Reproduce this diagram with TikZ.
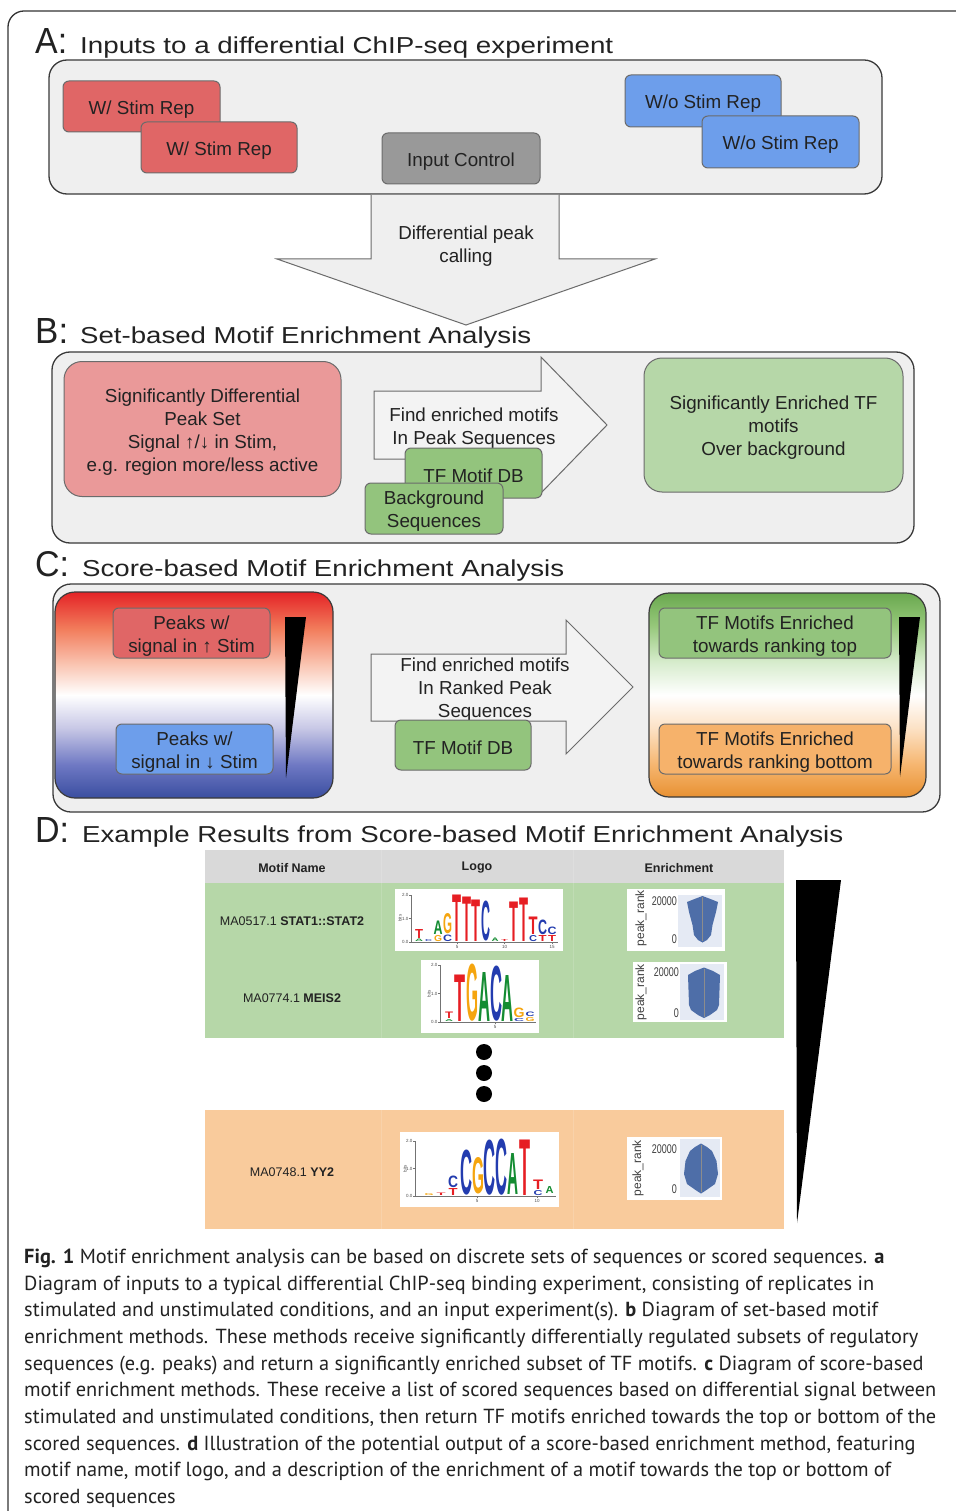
\documentclass[tikz,border=0pt]{standalone}
\usepackage{fontspec}
\setmainfont{Liberation Sans}
\newfontfamily\capfont{PT Sans}
\definecolor{pfill}{HTML}{EFEFEF}
\definecolor{pfilltwo}{HTML}{F3F3F3}
\definecolor{pdraw}{HTML}{3A3A3A}
\definecolor{bdraw}{HTML}{6B6B6B}
\definecolor{cred}{HTML}{E06666}
\definecolor{cblue}{HTML}{6D9EEB}
\definecolor{cgray}{HTML}{999999}
\definecolor{lred}{HTML}{EA9999}
\definecolor{lgreen}{HTML}{B6D7A8}
\definecolor{cgreen}{HTML}{93C47D}
\definecolor{corange}{HTML}{F6B26B}
\definecolor{lorange}{HTML}{F9CB9C}
\definecolor{thead}{HTML}{D9D9D9}
\definecolor{txt}{HTML}{222222}
\definecolor{lA}{RGB}{20,140,50}
\definecolor{lC}{RGB}{35,60,175}
\definecolor{lG}{RGB}{245,165,15}
\definecolor{lT}{RGB}{230,30,35}
\definecolor{vfill}{RGB}{78,110,168}
\definecolor{vbg}{RGB}{229,234,244}
% red-blue gradient
\definecolor{rb0}{RGB}{58,78,160}
\definecolor{rb1}{RGB}{110,120,195}
\definecolor{rb2}{RGB}{200,200,230}
\definecolor{rb4}{RGB}{250,200,182}
\definecolor{rb5}{RGB}{242,125,92}
\definecolor{rb6}{RGB}{228,35,38}
\pgfdeclareverticalshading{redblue}{100bp}{color(0bp)=(rb0); color(25bp)=(rb0); color(33bp)=(rb1); color(42bp)=(rb2); color(50bp)=(white); color(57bp)=(rb4); color(66bp)=(rb5); color(75bp)=(rb6); color(100bp)=(rb6)}
% green-orange gradient
\definecolor{go0}{RGB}{232,145,50}
\definecolor{go1}{RGB}{246,182,112}
\definecolor{go2}{RGB}{252,226,198}
\definecolor{go4}{RGB}{215,236,205}
\definecolor{go5}{RGB}{150,200,122}
\definecolor{go6}{RGB}{106,168,79}
\pgfdeclareverticalshading{greenorange}{100bp}{color(0bp)=(go0); color(25bp)=(go0); color(33bp)=(go1); color(42bp)=(go2); color(50bp)=(white); color(58bp)=(go4); color(67bp)=(go5); color(75bp)=(go6); color(100bp)=(go6)}
\newcommand\bxf{\fontsize{18.8}{23}\selectfont}
\newcommand\capf{\capfont\fontsize{20.35}{24}\selectfont}
\newcommand\rowf{\fontsize{12.5}{14}\selectfont}
\newcommand\tinyf{\fontsize{4.5}{5}\selectfont}
\newcommand\vf{\fontsize{12}{13}\selectfont}
% logo letter: name, x, top, bottom, colour, letter, width
\newcommand\LL[7]{\node[inner sep=0pt, outer sep=0pt, anchor=south, text=#5] (#1) at (#2,#4) {\resizebox{#7pt}{\dimexpr #4pt-#3pt\relax}{\bfseries #6}};}
% box with text: name, options, x, y, text
\newcommand\BX[5]{\node[box,#2] (#1) at (#3,#4) {}; \node[lbl] (#1t) at ([yshift=-3pt]#1.center) {#5};}
\begin{document}
\begin{tikzpicture}[x=1pt,y=-1pt,
  every node/.style={text=txt},
  panel/.style={draw=pdraw, line width=1.3pt, fill=pfill, rounded corners=18pt, inner sep=0pt},
  box/.style={draw=bdraw, line width=1pt, rounded corners=6pt, inner sep=0pt},
  big/.style={rounded corners=18pt},
  lbl/.style={inner sep=0pt, align=center, font=\bxf},
  ttl/.style={anchor=base west, inner sep=0pt},
  bigarrow/.style={draw=bdraw, line width=1pt, fill=pfill},
  captext/.style={anchor=base west, inner sep=0pt, font=\capf},
  row/.style={inner sep=0pt, font=\rowf},
  hd/.style={inner sep=0pt, font=\rowf\bfseries},
  wedge/.style={fill=black},
  ax/.style={draw=black!55, line width=0.4pt},
  tk/.style={inner sep=0pt, font=\tinyf, text=black!70},
  vl/.style={inner sep=0pt, font=\vf, text=black!75},
]
\useasboundingbox (0,0) rectangle (955,1511);
\fill[white] (0,0) rectangle (955,1511);
% frame
\draw[line width=1.3pt, black!80, rounded corners=16pt] (8,1520) -- (8,11) -- (965,11);

% ---------- A ----------
\node[ttl] (tA) at (35,54) {\resizebox{32pt}{25pt}{A:}};
\node[ttl] (tAt) at (80,54) {\resizebox{533pt}{16.7pt}{Inputs to a differential ChIP-seq experiment}};
\node[panel, minimum width=833pt, minimum height=134pt] (pA) at (465.5,127) {};
\BX{ws1}{fill=cred, minimum width=157pt, minimum height=51pt}{141.5}{106.5}{W/ Stim Rep}
\BX{ws2}{fill=cred, minimum width=156pt, minimum height=51pt}{219}{147.5}{W/ Stim Rep}
\BX{ic}{fill=cgray, minimum width=158pt, minimum height=51pt}{461}{158.5}{Input Control}
\BX{wo1}{fill=cblue, minimum width=156pt, minimum height=52pt}{703}{101}{W/o Stim Rep}
\BX{wo2}{fill=cblue, minimum width=157pt, minimum height=52pt}{780.5}{142}{W/o Stim Rep}
\draw[bigarrow] (371,195) -- (371,259) -- (277,259) -- (466,325) -- (655,259) -- (559,259) -- (559,195);
\node[lbl] (dpc) at (466,246.5) {Differential peak\\calling};

% ---------- B ----------
\node[ttl] (tB) at (35,343) {\resizebox{33pt}{25pt}{B:}};
\node[ttl] (tBt) at (80,343) {\resizebox{451pt}{16.7pt}{Set-based Motif Enrichment Analysis}};
\node[panel, minimum width=862pt, minimum height=191pt] (pB) at (483,447.5) {};
\BX{sd}{big, fill=lred, minimum width=277pt, minimum height=135pt}{202.5}{429}{Significantly Differential\\Peak Set\\Signal ↑/↓ in Stim,\\e.g. region more/less active}
\draw[bigarrow, fill=pfilltwo] (541,459) -- (374,459) -- (374,391) -- (541,391) -- (541,357) -- (607,425) -- (541,493) -- cycle;
\node[lbl] (fe) at (474,428.5) {Find enriched motifs\\In Peak Sequences};
\BX{db1}{fill=cgreen, minimum width=137pt, minimum height=50pt}{473.5}{473}{TF Motif DB}
\BX{bg}{fill=cgreen, minimum width=138pt, minimum height=51pt}{434}{508.5}{Background\\Sequences}
\BX{se}{big, fill=lgreen, minimum width=259pt, minimum height=134pt}{773.5}{425}{Significantly Enriched TF\\motifs\\Over background}

% ---------- C ----------
\node[ttl] (tC) at (35,576) {\resizebox{34pt}{25pt}{C:}};
\node[ttl] (tCt) at (82,576) {\resizebox{482pt}{16.7pt}{Score-based Motif Enrichment Analysis}};
\node[panel, minimum width=887pt, minimum height=228pt] (pC) at (496.5,698) {};
\node[draw=pdraw, line width=1.2pt, rounded corners=20pt, shade, shading=redblue, minimum width=278pt, minimum height=206pt, inner sep=0pt] (gl) at (194,695) {};
\BX{pu}{fill=cred, minimum width=157pt, minimum height=50pt}{191.5}{633}{Peaks w/\\signal in ↑ Stim}
\BX{pd}{fill=cblue, minimum width=157pt, minimum height=50pt}{194.5}{749}{Peaks w/\\signal in ↓ Stim}
\fill[wedge] (285,617) -- (306,617) -- (286,778) -- cycle;
\draw[bigarrow, fill=pfilltwo] (566,721) -- (371,721) -- (371,654) -- (566,654) -- (566,620) -- (633,687) -- (566,754) -- cycle;
\node[lbl] (fr) at (485,690) {Find enriched motifs\\In Ranked Peak\\Sequences};
\BX{db2}{fill=cgreen, minimum width=136pt, minimum height=50pt}{463}{745}{TF Motif DB}
\node[draw=pdraw, line width=1.2pt, rounded corners=20pt, shade, shading=greenorange, minimum width=277pt, minimum height=204pt, inner sep=0pt] (gr) at (787.5,695) {};
\BX{tt}{fill=cgreen, minimum width=232pt, minimum height=50pt}{775}{633}{TF Motifs Enriched\\towards ranking top}
\BX{tb}{fill=corange, minimum width=232pt, minimum height=50pt}{775}{749}{TF Motifs Enriched\\towards ranking bottom}
\fill[wedge] (899,617) -- (920,617) -- (900,777) -- cycle;

% ---------- D ----------
\node[ttl] (tD) at (35,842) {\resizebox{34pt}{25pt}{D:}};
\node[ttl] (tDt) at (82,842) {\resizebox{761pt}{16.7pt}{Example Results from Score-based Motif Enrichment Analysis}};
\fill[thead] (205,850) rectangle (784,883);
\fill[lgreen] (205,883) rectangle (784,1038);
\fill[lorange] (205,1110) rectangle (784,1229);
\draw[white, opacity=0.15, line width=0.8pt] (381,850) -- (381,1038) (573,850) -- (573,1038) (381,1110) -- (381,1229) (573,1110) -- (573,1229);
\node[hd] (hmn) at (292,868) {Motif Name};
\node[hd] (hlg) at (477,868) {Logo};
\node[hd] (hen) at (679,868) {Enrichment};
\node[row] (r1) at (292,921) {MA0517.1 \textbf{STAT1::STAT2}};
\node[row] (r2) at (292,998) {MA0774.1 \textbf{MEIS2}};
\node[row] (r3) at (292,1172) {MA0748.1 \textbf{YY2}};
\fill[black] (484,1052) circle (8pt) (484,1073) circle (8pt) (484,1094) circle (8pt);
\fill[wedge] (796,880) -- (841,880) -- (797,1223) -- cycle;

% logo 1
\fill[white] (395,889) rectangle (563,951);
\draw[ax] (411,895) -- (411,942) -- (558,942);
\draw[ax] (409,895) -- (411,895) (409,918.5) -- (411,918.5) (409,942) -- (411,942) (457,942) -- (457,944) (504.5,942) -- (504.5,944) (552,942) -- (552,944);
\node[tk, anchor=east] (l1y2) at (408.5,895) {2.0};
\node[tk, anchor=east] (l1y1) at (408.5,918.5) {1.0};
\node[tk, anchor=east] (l1y0) at (408.5,942) {0.0};
\node[tk, rotate=90] (l1b) at (400,918) {bits};
\node[tk, anchor=north] (l1x5) at (457,945) {5};
\node[tk, anchor=north] (l1x10) at (504.5,945) {10};
\node[tk, anchor=north] (l1x15) at (552,945) {15};
\LL{a1}{419}{929}{938}{lT}{T}{8}
\LL{a1b}{419}{939}{941.5}{lA}{A}{8}
\LL{a2}{428.5}{939.5}{941.5}{lC}{C}{7}
\LL{a3}{438}{921}{934.5}{lA}{A}{9}
\LL{a3b}{438}{935.5}{941.5}{lG}{G}{8}
\LL{a4}{447.5}{914}{934}{lG}{G}{9}
\LL{a4b}{447.5}{935}{941.5}{lC}{C}{9}
\LL{a5}{457}{895}{941.5}{lT}{T}{9}
\LL{a6}{466.5}{897}{941.5}{lT}{T}{9}
\LL{a7}{476}{900}{941.5}{lT}{T}{9}
\LL{a8}{485.5}{902}{941.5}{lC}{C}{9}
\LL{a9}{495}{938}{941.5}{lA}{A}{7}
\LL{a10}{504.5}{939.5}{941.5}{lT}{T}{7}
\LL{a11}{514}{902}{941.5}{lT}{T}{9}
\LL{a12}{523.5}{898}{941.5}{lT}{T}{9}
\LL{a13}{533}{917}{934.5}{lT}{T}{9}
\LL{a13b}{533}{935.5}{941.5}{lC}{C}{8}
\LL{a14}{542.5}{920}{934.5}{lC}{C}{9}
\LL{a14b}{542.5}{935.5}{941.5}{lT}{T}{8}
\LL{a15}{552}{927}{934.5}{lC}{C}{9}
\LL{a15b}{552}{935.5}{941.5}{lT}{T}{8}

% logo 2
\fill[white] (421,960) rectangle (539,1033);
\draw[ax] (440,965) -- (440,1022) -- (536,1022);
\draw[ax] (438,965) -- (440,965) (438,993.5) -- (440,993.5) (438,1022) -- (440,1022) (495,1022) -- (495,1024);
\node[tk, anchor=east] (l2y2) at (437.5,965) {2.0};
\node[tk, anchor=east] (l2y1) at (437.5,993.5) {1.0};
\node[tk, anchor=east] (l2y0) at (437.5,1022) {0.0};
\node[tk, rotate=90] (l2b) at (429,993.5) {bits};
\node[tk, anchor=north] (l2x5) at (495,1025) {5};
\LL{b1}{449}{1012}{1018.5}{lT}{T}{8}
\LL{b1b}{449}{1019.5}{1021.5}{lA}{A}{8}
\LL{b2}{460}{975}{1021.5}{lT}{T}{11}
\LL{b3}{472}{965}{1021.5}{lG}{G}{12}
\LL{b4}{484}{972}{1021}{lA}{A}{12}
\LL{b5}{496}{967}{1021.5}{lC}{C}{12}
\LL{b6}{507.5}{975}{1021}{lA}{A}{12}
\LL{b7}{519}{1008}{1017.5}{lG}{G}{11}
\LL{b7b}{519}{1018.5}{1021.5}{lC}{C}{10}
\LL{b8}{530}{1012}{1016.5}{lC}{C}{9}
\LL{b8b}{530}{1017.5}{1021.5}{lG}{G}{9}

% logo 3
\fill[white] (400,1132) rectangle (559,1207);
\draw[ax] (415,1141) -- (415,1196) -- (556,1196);
\draw[ax] (413,1141) -- (415,1141) (413,1168.5) -- (415,1168.5) (413,1196) -- (415,1196) (477,1196) -- (477,1198) (537,1196) -- (537,1198);
\node[tk, anchor=east] (l3y2) at (412.5,1141) {2.0};
\node[tk, anchor=east] (l3y1) at (412.5,1168.5) {1.0};
\node[tk, anchor=east] (l3y0) at (412.5,1196) {0.0};
\node[tk, rotate=90] (l3b) at (405,1168.5) {bits};
\node[tk, anchor=north] (l3x5) at (477,1199) {5};
\node[tk, anchor=north] (l3x10) at (537,1199) {10};
\LL{c1}{429}{1193.5}{1195.5}{lG}{G}{9}
\LL{c2}{441}{1193}{1195.5}{lT}{T}{9}
\LL{c3}{453}{1176}{1187.5}{lC}{C}{10}
\LL{c3b}{453}{1188.5}{1195.5}{lT}{T}{9}
\LL{c4}{466}{1151}{1195.5}{lC}{C}{12}
\LL{c5}{478}{1158}{1194}{lG}{G}{12}
\LL{c6}{489.5}{1141}{1195.5}{lC}{C}{12}
\LL{c7}{501}{1140}{1195.5}{lC}{C}{12}
\LL{c8}{513}{1153}{1194}{lA}{A}{11}
\LL{c9}{525}{1140}{1195.5}{lT}{T}{11}
\LL{c10}{538}{1180}{1189.5}{lT}{T}{10}
\LL{c10b}{538}{1190.5}{1195.5}{lC}{C}{9}
\LL{c11}{549.5}{1186}{1193}{lA}{A}{8}

% violin 1
\fill[white] (627,889) rectangle (725,951);
\fill[vbg] (678,895) rectangle (722,947);
\fill[vfill] (702.5,896) -- (710.5,899) -- (718,902) -- (716,912) -- (712.5,925) -- (711,935) -- (707,940) -- (702.5,942.5) -- (698,940) -- (694,935) -- (692.5,925) -- (689,912) -- (687,902) -- (694.5,899) -- cycle;
\draw[black!45, line width=0.4pt] (702.5,897) -- (702.5,941);
\node[vl, rotate=90] (v1a) at (641,918) {peak\_rank};
\node[vl, anchor=east] (v1b) at (677,901) {\scalebox{0.75}[1.05]{20000}};
\node[vl, anchor=east] (v1c) at (677,939) {\scalebox{0.75}[1.05]{0}};

% violin 2
\fill[white] (633,962) rectangle (727,1022);
\fill[vbg] (680,964) rectangle (724,1020);
\fill[vfill] (704,967.5) -- (713,971) -- (720,975) -- (719.5,990) -- (719,1005) -- (717,1010) -- (710,1015) -- (704,1018) -- (698,1015) -- (691,1010) -- (689,1005) -- (688.5,990) -- (688,975) -- (695,971) -- cycle;
\draw[black!45, line width=0.4pt] (704,968.5) -- (704,1017);
\node[vl, rotate=90] (v2a) at (641,992) {peak\_rank};
\node[vl, anchor=east] (v2b) at (679,972) {\scalebox{0.75}[1.05]{20000}};
\node[vl, anchor=east] (v2c) at (679,1013) {\scalebox{0.75}[1.05]{0}};

% violin 3
\fill[white] (627,1137) rectangle (722,1200);
\fill[vbg] (680,1139) rectangle (720,1197);
\fill[vfill] (701,1143.5) -- (707,1147) -- (712,1151) -- (716.5,1161) -- (718,1174) -- (715,1184) -- (705,1191) -- (701,1193.5) -- (697,1191) -- (687,1184) -- (684,1174) -- (685.5,1161) -- (690,1151) -- (695,1147) -- cycle;
\draw[black!45, line width=0.4pt] (701,1145) -- (701,1192);
\node[vl, rotate=90] (v3a) at (638,1168) {peak\_rank};
\node[vl, anchor=east] (v3b) at (677,1149) {\scalebox{0.75}[1.05]{20000}};
\node[vl, anchor=east] (v3c) at (677,1189) {\scalebox{0.75}[1.05]{0}};

% ---------- caption ----------
\node[captext] (c1) at (24,1263) {\textbf{Fig. 1} Motif enrichment analysis can be based on discrete sets of sequences or scored sequences. \textbf{a}};
\node[captext] (c2) at (24,1290) {Diagram of inputs to a typical differential ChIP-seq binding experiment, consisting of replicates in};
\node[captext] (c3) at (24,1316) {stimulated and unstimulated conditions, and an input experiment(s). \textbf{b} Diagram of set-based motif};
\node[captext] (c4) at (24,1343) {enrichment methods. These methods receive significantly differentially regulated subsets of regulatory};
\node[captext] (c5) at (24,1370) {sequences (e.g. peaks) and return a significantly enriched subset of TF motifs. \textbf{c} Diagram of score-based};
\node[captext] (c6) at (24,1396) {motif enrichment methods. These receive a list of scored sequences based on differential signal between};
\node[captext] (c7) at (24,1423) {stimulated and unstimulated conditions, then return TF motifs enriched towards the top or bottom of the};
\node[captext] (c8) at (24,1450) {scored sequences. \textbf{d} Illustration of the potential output of a score-based enrichment method, featuring};
\node[captext] (c9) at (24,1476) {motif name, motif logo, and a description of the enrichment of a motif towards the top or bottom of};
\node[captext] (c10) at (24,1503) {scored sequences};
\end{tikzpicture}
\end{document}
